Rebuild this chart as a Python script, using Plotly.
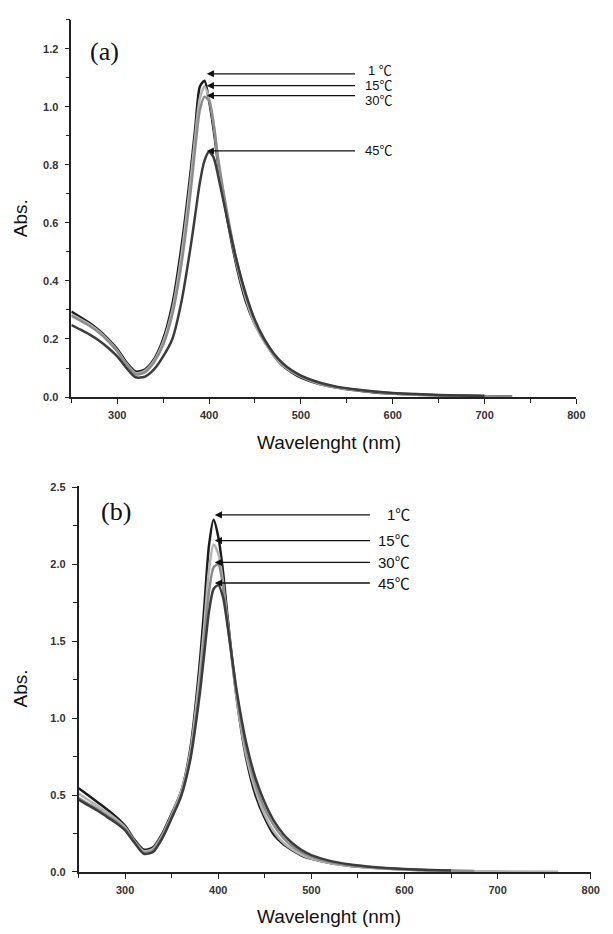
import plotly.graph_objects as go

# ---------------- data ----------------
WAVELENGTH = [250, 260, 270, 280, 290, 300, 310, 320, 330, 340, 350, 360, 370, 380, 385, 390,
              395, 400, 405, 410, 420, 430, 440, 450, 460, 470, 480, 490, 500, 520, 540, 560,
              580, 600, 625, 650, 675, 700, 730, 765]

TEMPS_A = ["1 ℃", "15℃", "30℃", "45℃"]
TEMPS_B = ["1℃", "15℃", "30℃", "45℃"]

# panel (a)
A_1C = [0.295, 0.275, 0.255, 0.23, 0.2, 0.165, 0.12, 0.088, 0.095, 0.13, 0.2, 0.32, 0.52, 0.78, 0.93, 1.07,
        1.09, 1.02, 0.92, 0.80, 0.61, 0.45, 0.33, 0.25, 0.195, 0.145, 0.108, 0.085, 0.067, 0.045, 0.032, 0.023,
        0.016, 0.012, 0.008, 0.006, 0.004, 0.003, 0.002]
A_15C = [0.285, 0.268, 0.25, 0.226, 0.196, 0.16, 0.115, 0.082, 0.09, 0.125, 0.19, 0.3, 0.49, 0.75, 0.9, 1.03,
         1.07, 1.03, 0.94, 0.81, 0.62, 0.46, 0.34, 0.25, 0.19, 0.145, 0.11, 0.087, 0.07, 0.046, 0.033, 0.024,
         0.017, 0.012, 0.008, 0.006]
A_30C = [0.28, 0.263, 0.245, 0.222, 0.193, 0.157, 0.112, 0.078, 0.085, 0.12, 0.18, 0.285, 0.46, 0.71, 0.86, 0.99,
         1.035, 1.02, 0.94, 0.82, 0.63, 0.47, 0.35, 0.26, 0.195, 0.15, 0.115, 0.09, 0.072, 0.048, 0.034, 0.025,
         0.018, 0.013, 0.009, 0.006, 0.004, 0.003, 0.002]
A_45C = [0.248, 0.232, 0.215, 0.195, 0.17, 0.14, 0.1, 0.068, 0.07, 0.095, 0.14, 0.2, 0.33, 0.52, 0.63, 0.74,
         0.815, 0.845, 0.825, 0.76, 0.61, 0.47, 0.355, 0.265, 0.2, 0.152, 0.117, 0.092, 0.074, 0.05, 0.035, 0.026,
         0.019, 0.014, 0.01, 0.007, 0.005, 0.004]

# panel (b)
B_1C = [0.545, 0.5, 0.455, 0.41, 0.36, 0.3, 0.21, 0.145, 0.16, 0.25, 0.38, 0.52, 0.8, 1.35, 1.72, 2.12,
        2.29, 2.18, 1.96, 1.66, 1.12, 0.74, 0.5, 0.35, 0.24, 0.18, 0.14, 0.105, 0.085, 0.058, 0.041, 0.03,
        0.022, 0.016, 0.011, 0.008]
B_15C = [0.51, 0.47, 0.43, 0.39, 0.345, 0.29, 0.2, 0.135, 0.15, 0.24, 0.37, 0.52, 0.78, 1.28, 1.6, 1.96,
         2.13, 2.07, 1.89, 1.62, 1.12, 0.76, 0.53, 0.37, 0.26, 0.19, 0.145, 0.11, 0.088, 0.058, 0.04, 0.029,
         0.021, 0.015, 0.01, 0.007, 0.005, 0.004, 0.003, 0.002]
B_30C = [0.48, 0.445, 0.41, 0.37, 0.33, 0.28, 0.195, 0.125, 0.14, 0.23, 0.36, 0.5, 0.75, 1.2, 1.5, 1.82,
         1.98, 2.0, 1.86, 1.62, 1.15, 0.8, 0.57, 0.41, 0.3, 0.22, 0.165, 0.125, 0.098, 0.064, 0.045, 0.033,
         0.024, 0.017, 0.012, 0.009, 0.006]
B_45C = [0.47, 0.435, 0.4, 0.36, 0.32, 0.27, 0.19, 0.118, 0.13, 0.22, 0.35, 0.49, 0.73, 1.15, 1.42, 1.69,
         1.84, 1.865, 1.79, 1.6, 1.17, 0.84, 0.61, 0.45, 0.33, 0.245, 0.185, 0.14, 0.11, 0.072, 0.05, 0.036,
         0.026, 0.019, 0.013, 0.009]

# arrow levels (point at the peaks) and label levels
ARROW_Y_A = [1.114, 1.073, 1.039, 0.848]
LABEL_Y_A = [1.126, 1.074, 1.022, 0.851]
ARROW_Y_B = [2.322, 2.155, 2.013, 1.879]
LABEL_Y_B = [2.322, 2.155, 2.013, 1.879]

X_TICKS = [300, 400, 500, 600, 700, 800]
Y_TICKS_A = [0.0, 0.2, 0.4, 0.6, 0.8, 1.0, 1.2]
Y_TICKS_B = [0.0, 0.5, 1.0, 1.5, 2.0, 2.5]

# ---------------- styling ----------------
W, H = 613, 934
COLORS = ["#1c1c1c", "#b4b4b4", "#8c8c8c", "#3c3c3c"]
SANS = "Liberation Sans, Arial, Noto Sans CJK KR"
SERIF = "Liberation Serif, Times New Roman, serif"


def px_x(p):
    return p / W


def px_y(p):
    return 1 - p / H


fig = go.Figure()

series_a = [A_1C, A_15C, A_30C, A_45C]
series_b = [B_1C, B_15C, B_30C, B_45C]

for i, vals in enumerate(series_a):
    fig.add_trace(go.Scatter(x=WAVELENGTH[:len(vals)], y=vals, mode="lines", name=TEMPS_A[i],
                             line=dict(color=COLORS[i], width=2.5, shape="spline", smoothing=0.7),
                             xaxis="x", yaxis="y", showlegend=False))
for i, vals in enumerate(series_b):
    fig.add_trace(go.Scatter(x=WAVELENGTH[:len(vals)], y=vals, mode="lines", name=TEMPS_B[i],
                             line=dict(color=COLORS[i], width=2.5, shape="spline", smoothing=0.7),
                             xaxis="x2", yaxis="y2", showlegend=False))

axis_common = dict(showline=True, linecolor="#222", linewidth=1.6, ticks="outside", ticklen=5,
                   tickwidth=1.4, tickcolor="#222", showgrid=False, zeroline=False,
                   tickfont=dict(family=SANS, size=11, color="#333", weight="bold"))
minor_x = dict(dtick=50, tick0=250, ticks="outside", ticklen=4, tickcolor="#222", tickwidth=1.2)

fig.update_layout(
    width=W, height=H,
    margin=dict(l=0, r=0, t=0, b=0),
    plot_bgcolor="white", paper_bgcolor="white",
    xaxis=dict(domain=[72.4 / W, 585 / W], range=[250, 800], tickvals=X_TICKS, anchor="y",
               minor=minor_x, ticklabelstandoff=2, **axis_common),
    yaxis=dict(domain=[px_y(396.7), px_y(15)], range=[0, 1.3], tickvals=Y_TICKS_A, tickformat=".1f",
               anchor="x", minor=dict(dtick=0.1, tick0=0, ticks="outside", ticklen=4, tickcolor="#222", tickwidth=1.2),
               ticklabelstandoff=4, **axis_common),
    xaxis2=dict(domain=[79.75 / W, 599.5 / W], range=[250, 800], tickvals=X_TICKS, anchor="y2",
                minor=minor_x, ticklabelstandoff=2, **axis_common),
    yaxis2=dict(domain=[px_y(877.3), px_y(486.7)], range=[0, 2.51], tickvals=Y_TICKS_B, tickformat=".1f",
                anchor="x2", minor=dict(dtick=0.25, tick0=0, ticks="outside", ticklen=4, tickcolor="#222", tickwidth=1.2),
                ticklabelstandoff=4, **axis_common),
)

ann = []
# axis titles
for yc in (216, 692):
    ann.append(dict(text="Abs.", x=px_x(21), y=px_y(yc), xref="paper", yref="paper", textangle=-90,
                    showarrow=False, font=dict(family=SANS, size=19, color="#111"),
                    xanchor="center", yanchor="middle"))
for yc in (443, 922):
    ann.append(dict(text="Wavelenght (nm)", x=px_x(334), y=px_y(yc), xref="paper", yref="paper",
                    showarrow=False, font=dict(family=SANS, size=19, color="#111"),
                    xanchor="center", yanchor="middle"))
# panel labels
ann.append(dict(text="(a)", x=px_x(106), y=px_y(47), xref="paper", yref="paper", showarrow=False,
                font=dict(family=SERIF, size=26, color="#111"), xanchor="center", yanchor="middle"))
ann.append(dict(text="(b)", x=px_x(118), y=px_y(513), xref="paper", yref="paper", showarrow=False,
                font=dict(family=SERIF, size=26, color="#111"), xanchor="center", yanchor="middle"))

# arrows and temperature labels
for i, yv in enumerate(ARROW_Y_A):
    ann.append(dict(text="", x=397.5, y=yv, ax=560.5, ay=yv, xref="x", yref="y", axref="x", ayref="y",
                    showarrow=True, arrowhead=2, arrowsize=1.1, arrowwidth=1.3, arrowcolor="#111"))
    ann.append(dict(text=TEMPS_A[i], x=600, y=LABEL_Y_A[i], xref="x", yref="y", showarrow=False,
                    xanchor="right", yanchor="middle", borderpad=0,
                    font=dict(family=SANS, size=13, color="#111")))
for i, yv in enumerate(ARROW_Y_B):
    ann.append(dict(text="", x=396.3, y=yv, ax=564.5, ay=yv, xref="x2", yref="y2", axref="x2", ayref="y2",
                    showarrow=True, arrowhead=2, arrowsize=1.1, arrowwidth=1.3, arrowcolor="#111"))
    ann.append(dict(text=TEMPS_B[i], x=607, y=LABEL_Y_B[i], xref="x2", yref="y2", showarrow=False,
                    xanchor="right", yanchor="middle", borderpad=0,
                    font=dict(family=SANS, size=15, color="#111")))

fig.update_layout(annotations=ann)
# remove the browser's default 8px page margin so the figure fills the window exactly
fig.write_html("out.html", config={"displayModeBar": False},
               post_script="document.body.style.margin='0';")
